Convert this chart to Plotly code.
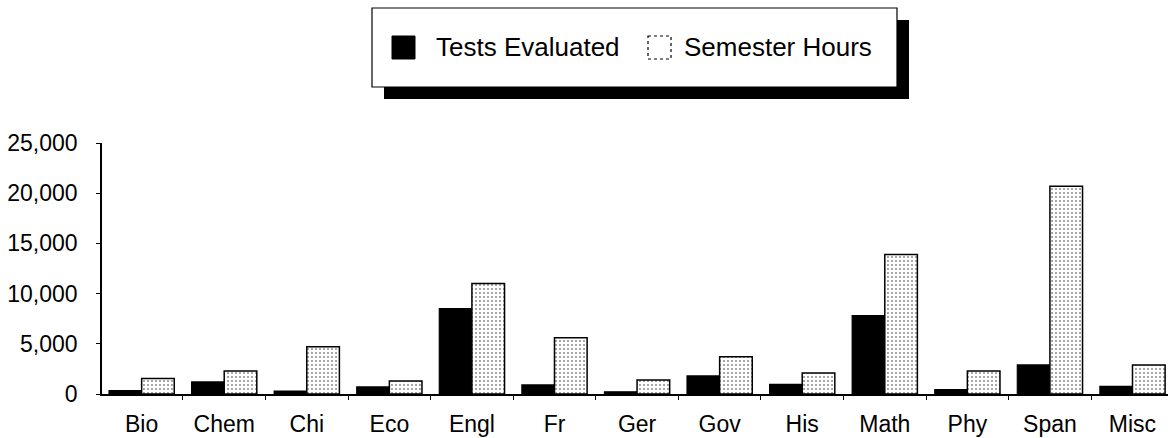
import plotly.graph_objects as go

categories = ["Bio", "Chem", "Chi", "Eco", "Engl", "Fr", "Ger", "Gov", "His", "Math", "Phy", "Span", "Misc"]
tests_evaluated = [350, 1200, 300, 700, 8500, 900, 220, 1800, 950, 7800, 450, 2900, 750]
semester_hours = [1550, 2300, 4700, 1300, 11000, 5600, 1400, 3700, 2100, 13900, 2300, 20700, 2900]
y_ticks = [0, 5000, 10000, 15000, 20000, 25000]
y_tick_labels = ["0", "5,000", "10,000", "15,000", "20,000", "25,000"]
series_names = ["Tests Evaluated", "Semester Hours"]

W, H = 1168, 438
L, R, T, B = 102, 0, 143, 44
PW, PH = W - L - R, H - T - B

def px(x):
    return (x - L) / PW

def py(y):
    return (H - B - y) / PH

FONT = "Liberation Sans, Arial, Helvetica, sans-serif"

fig = go.Figure()
fig.add_trace(go.Bar(
    x=categories, y=tests_evaluated, name=series_names[0],
    marker=dict(color="black", line=dict(color="black", width=1.2)),
    showlegend=False,
))
fig.add_trace(go.Bar(
    x=categories, y=semester_hours, name=series_names[1],
    marker=dict(color="white", line=dict(color="black", width=1.5),
                pattern=dict(shape=".", fgcolor="#222", bgcolor="white", size=4, solidity=0.22)),
    showlegend=False,
))

# legend box with drop shadow (drawn manually)
bx0, bx1, by0, by1 = 372, 897, 8, 87
shapes = [
    dict(type="rect", xref="paper", yref="paper", x0=px(bx0 + 12), x1=px(bx1 + 12), y0=py(by0 + 12), y1=py(by1 + 12),
         fillcolor="black", line=dict(color="black", width=0), layer="above"),
    dict(type="rect", xref="paper", yref="paper", x0=px(bx0), x1=px(bx1), y0=py(by0), y1=py(by1),
         fillcolor="white", line=dict(color="black", width=1.2), layer="above"),
    dict(type="rect", xref="paper", yref="paper", x0=px(392), x1=px(415), y0=py(36), y1=py(59),
         fillcolor="black", line=dict(color="black", width=1), layer="above"),
    dict(type="rect", xref="paper", yref="paper", x0=px(648), x1=px(671), y0=py(36), y1=py(59),
         fillcolor="white", line=dict(color="black", width=1.2, dash="dot"), layer="above"),
]
annotations = [
    dict(xref="paper", yref="paper", x=px(434), y=py(47.5), text=series_names[0], showarrow=False,
         xanchor="left", yanchor="middle", font=dict(family=FONT, size=26, color="black")),
    dict(xref="paper", yref="paper", x=px(682), y=py(47.5), text=series_names[1], showarrow=False,
         xanchor="left", yanchor="middle", font=dict(family=FONT, size=26, color="black")),
]

fig.update_layout(
    width=W, height=H,
    margin=dict(l=L, r=R, t=T, b=B, pad=0, autoexpand=False),
    paper_bgcolor="white", plot_bgcolor="white",
    barmode="group", bargap=0.21, bargroupgap=0,
    showlegend=False,
    shapes=shapes, annotations=annotations,
    font=dict(family=FONT, color="black"),
)
fig.update_xaxes(
    type="category", range=[-0.48, 12.43], automargin=False,
    showline=True, linecolor="black", linewidth=1.5,
    ticks="outside", tickson="boundaries", ticklen=4, tickcolor="black", tickwidth=1.2,
    showgrid=False, zeroline=False,
    tickfont=dict(family=FONT, size=23, color="black"),
    ticklabelstandoff=9,
)
fig.update_yaxes(
    range=[0, 25000], tickvals=y_ticks, ticktext=y_tick_labels, automargin=False,
    showline=True, linecolor="black", linewidth=1.5,
    ticks="outside", ticklen=4, tickcolor="black", tickwidth=1.2,
    showgrid=False, zeroline=False,
    tickfont=dict(family=FONT, size=23, color="black"),
    ticklabelstandoff=14,
)

fig.write_html(
    "out.html",
    config={"displayModeBar": False},
    post_script="document.body.style.margin='0';document.body.style.overflow='hidden';",
)
